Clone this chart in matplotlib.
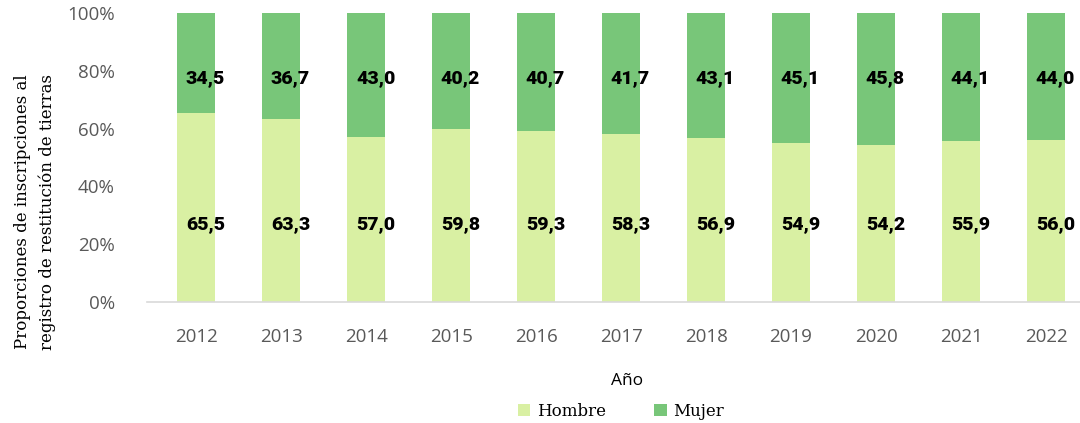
import matplotlib.pyplot as plt
import numpy as np

years = ["2012", "2013", "2014", "2015", "2016", "2017", "2018", "2019", "2020", "2021", "2022"]
hombre = [65.5, 63.3, 57.0, 59.8, 59.3, 58.3, 56.9, 54.9, 54.2, 55.9, 56.0]
mujer = [34.5, 36.7, 43.0, 40.2, 40.7, 41.7, 43.1, 45.1, 45.8, 44.1, 44.0]

c_hombre = "#d9f0a3"
c_mujer = "#78c679"

fig = plt.figure(figsize=(10.8, 4.23), dpi=100)
ax = fig.add_axes([0.136, 0.286, 0.864, 0.683])

x = np.arange(len(years))
w = 0.44
ax.bar(x, hombre, w, color=c_hombre, label="Hombre")
ax.bar(x, mujer, w, bottom=hombre, color=c_mujer, label="Mujer")

# value labels sit at fixed heights, starting just inside the left edge of each bar
for i in range(len(years)):
    ax.text(x[i] - w / 2 + 0.1, 27, f"{hombre[i]:.1f}".replace(".", ","),
            ha="left", va="center", fontsize=14, fontweight="black",
            family="Roboto", color="black")
    ax.text(x[i] - w / 2 + 0.1, 77.5, f"{mujer[i]:.1f}".replace(".", ","),
            ha="left", va="center", fontsize=14, fontweight="black",
            family="Roboto", color="black")

ax.set_ylim(0, 100)
ax.set_xlim(-0.58, 10.4)
ax.set_yticks(range(0, 101, 20))
ax.set_yticklabels([f"{v}%" for v in range(0, 101, 20)])
ax.set_xticks(x)
ax.set_xticklabels(years)
ax.tick_params(axis="both", length=0, labelsize=13.5, labelcolor="#595959")
ax.tick_params(axis="y", pad=23)
ax.tick_params(axis="x", pad=19)
for lab in ax.get_xticklabels() + ax.get_yticklabels():
    lab.set_family("Open Sans")

for s in ["top", "right", "left"]:
    ax.spines[s].set_visible(False)
ax.spines["bottom"].set_color("#d9d9d9")
ax.spines["bottom"].set_linewidth(1.2)

fig.text(0.032, 0.5, "Proporciones de inscripciones al\nregistro de restitución de tierras",
         rotation=90, ha="center", va="center", fontsize=12, family="DejaVu Serif",
         linespacing=1.55)
fig.text(0.581, 0.1, "Año", ha="center", va="center", fontsize=12.5, family="Open Sans")

fig.legend(loc="center", bbox_to_anchor=(0.575, 0.028), ncol=2, frameon=False,
           prop={"family": "DejaVu Serif", "size": 12}, handlelength=0.75,
           handleheight=0.75, handletextpad=0.4, columnspacing=2.9)

fig.savefig("out.png", dpi=100)
